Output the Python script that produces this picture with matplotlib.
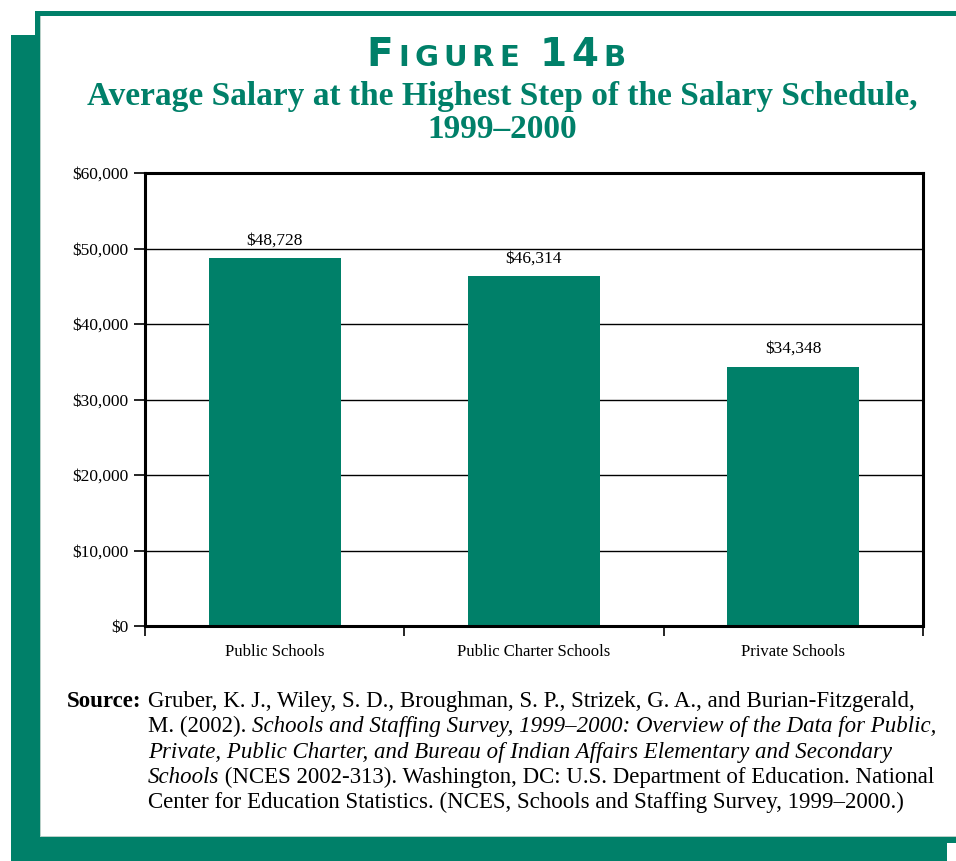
import matplotlib
matplotlib.use("Agg")
import matplotlib.pyplot as plt
from matplotlib.patches import Rectangle
from matplotlib.ticker import FuncFormatter

categories = ["Public Schools", "Public Charter Schools", "Private Schools"]
salaries = [48728, 46314, 34348]
value_labels = ["$48,728", "$46,314", "$34,348"]
y_ticks = [0, 10000, 20000, 30000, 40000, 50000, 60000]

TEAL = "#008069"
W, H = 956, 861
fig = plt.figure(figsize=(W / 100, H / 100), dpi=100)
fig.patch.set_facecolor("white")

def px_rect(x0, y0, x1, y1, color):
    fig.patches.append(Rectangle((x0 / W, 1 - y1 / H), (x1 - x0) / W, (y1 - y0) / H,
                                 transform=fig.transFigure, facecolor=color,
                                 edgecolor="none", zorder=0))

# frame
px_rect(35, 11, 956, 16, TEAL)
px_rect(35, 11, 40, 40, TEAL)
px_rect(11, 35, 40, 861, TEAL)
px_rect(11, 837, 956, 843, TEAL)
px_rect(11, 843, 947, 861, TEAL)
px_rect(40, 16, 41, 837, "#b8d0c8")
px_rect(40, 836, 956, 837, "#b8d0c8")

SERIF = ["Liberation Serif", "DejaVu Serif"]

fig.canvas.draw()
renderer = fig.canvas.get_renderer()

def runs_width(runs):
    total = 0
    for txt, kw in runs:
        t = fig.text(0, 0, txt, **kw)
        bb = t.get_window_extent(renderer)
        total += bb.width
        t.remove()
    return total

def draw_runs(x_px, y_px, runs, spacing=0.0):
    x = x_px
    for txt, kw in runs:
        t = fig.text(x / W, 1 - y_px / H, txt, va="baseline", ha="left", **kw)
        bb = t.get_window_extent(renderer)
        x += bb.width + spacing

# Figure title (small caps)
big = dict(family="DejaVu Sans", weight="bold", size=28, color=TEAL)
small = dict(family="DejaVu Sans", weight="bold", size=21, color=TEAL)
title_runs = []
for ch, kw in [("F", big), ("I", small), ("G", small), ("U", small), ("R", small), ("E", small),
               (" ", small), ("1", big), ("4", big), ("B", small)]:
    title_runs.append((ch, kw))
track = 5.0
tw = runs_width(title_runs) + track * (len(title_runs) - 1)
draw_runs(496 - tw / 2, 66, title_runs, spacing=track)

sub_kw = dict(family=SERIF, weight="bold", size=24, color=TEAL, ha="center", va="baseline")
fig.text(502 / W, 1 - 105 / H, "Average Salary at the Highest Step of the Salary Schedule,", **sub_kw)
fig.text(502 / W, 1 - 138 / H, "1999\u20132000", **sub_kw)

# chart
ax = fig.add_axes([145 / W, 1 - 626 / H, (923 - 145) / W, (626 - 173) / H])
x = list(range(len(categories)))
ax.bar(x, salaries, width=0.51, color=TEAL, zorder=3)
for xi, v, lab in zip(x, salaries, value_labels):
    ax.annotate(lab, (xi, v), xytext=(0, 7), textcoords="offset points", ha="center",
                va="bottom", family=SERIF, fontsize=12.5, color="black")
ax.set_xlim(-0.5, 2.5)
ax.set_ylim(0, 60000)
ax.set_yticks(y_ticks)
ax.yaxis.set_major_formatter(FuncFormatter(lambda v, p: f"${v:,.0f}"))
ax.grid(axis="y", color="black", linewidth=1.0, zorder=1)
ax.set_xticks([-0.5, 0.5, 1.5, 2.5])
ax.set_xticklabels([])
ax.set_xticks(x, minor=True)
ax.set_xticklabels(categories, minor=True)
ax.tick_params(axis="x", which="minor", length=0, pad=13, labelsize=12)
ax.tick_params(axis="x", which="major", length=7, width=1.2, direction="out")
ax.tick_params(axis="y", length=8, width=1.2, direction="out", labelsize=12.5, pad=4)
for lab in ax.get_xticklabels(minor=True) + ax.get_yticklabels():
    lab.set_family(SERIF)
for s in ax.spines.values():
    s.set_linewidth(2.2)
    s.set_color("black")
    s.set_zorder(4)

# Source note
FS = 16.5
src_kw = dict(family=SERIF, size=FS, color="black")
src_it = dict(family=SERIF, size=FS, color="black", style="italic")
fig.text(67 / W, 1 - 707 / H, "Source:", family=SERIF, weight="bold", size=FS,
         color="black", va="baseline", ha="left")
lines = [
    [("Gruber, K. J., Wiley, S. D., Broughman, S. P., Strizek, G. A., and Burian-Fitzgerald,", src_kw)],
    [("M. (2002). ", src_kw), ("Schools and Staffing Survey, 1999\u20132000: Overview of the Data for Public,", src_it)],
    [("Private, Public Charter, and Bureau of Indian Affairs Elementary and Secondary", src_it)],
    [("Schools", src_it), (" (NCES 2002-313). Washington, DC: U.S. Department of Education. National", src_kw)],
    [("Center for Education Statistics. (NCES, Schools and Staffing Survey, 1999\u20132000.)", src_kw)],
]
for i, runs in enumerate(lines):
    draw_runs(148, 707 + 25.3 * i, runs)

fig.savefig("out.png", dpi=100, facecolor="white")
